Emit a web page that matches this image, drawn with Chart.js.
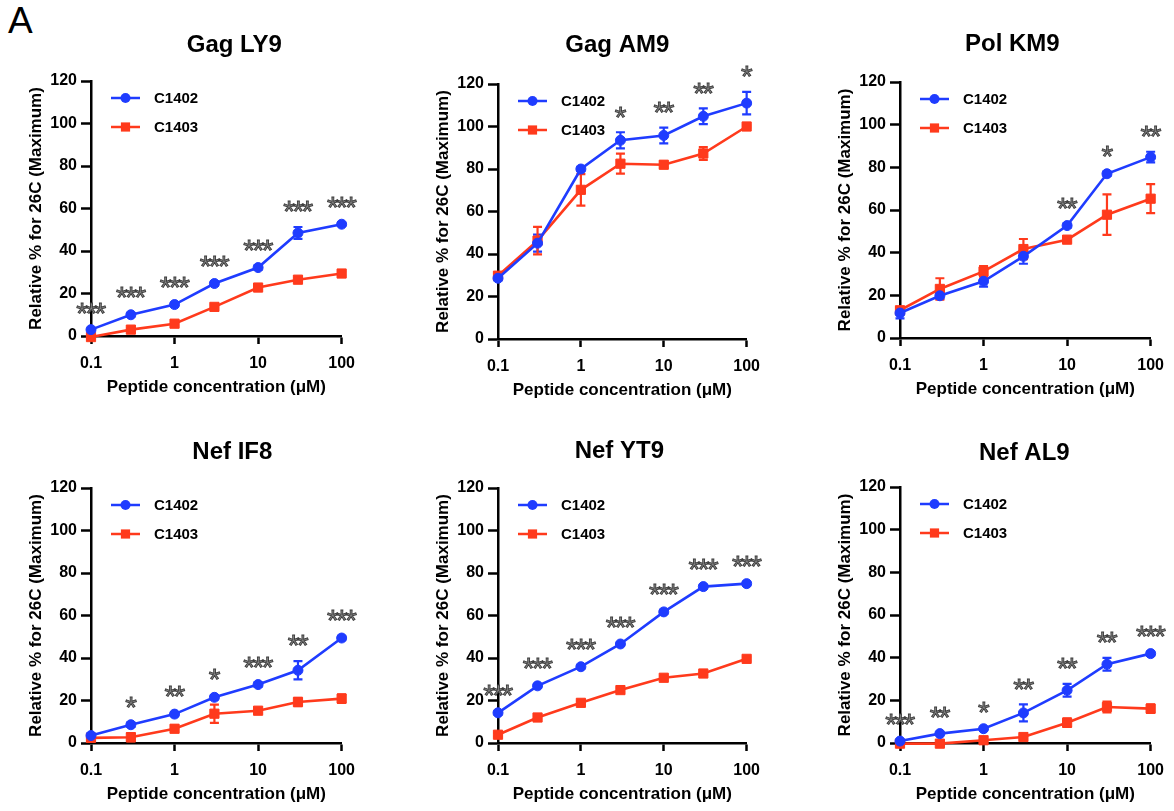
<!DOCTYPE html>
<html><head><meta charset="utf-8">
<script src="https://cdn.jsdelivr.net/npm/chart.js@4.4.1/dist/chart.umd.min.js"></script>
<style>
html,body{margin:0;padding:0;background:#fff;overflow:hidden;width:1174px;height:811px;position:relative;}
#lbl{position:absolute;left:8px;top:2px;font:37px 'Liberation Sans',Arial,sans-serif;color:#000;line-height:1;}
canvas{position:absolute;}
</style></head><body>
<div id="lbl">A</div>
<script>
// ---------- data ----------
const concentrations = [0.1, 0.3, 1, 3, 10, 30, 100];
const xTickValues = [0.1, 1, 10, 100];
const xTickLabels = ['0.1', '1', '10', '100'];
const yTickValues = [0, 20, 40, 60, 80, 100, 120];
const seriesNames = ['C1402', 'C1403'];
const panelTitles = ['Gag LY9', 'Gag AM9', 'Pol KM9', 'Nef IF8', 'Nef YT9', 'Nef AL9'];
const yAxisTitle = 'Relative % for 26C (Maximum)';
const xAxisTitle = 'Peptide concentration (\u03bcM)';

const gagLY9_C1402 = [3.0, 10.0, 14.8, 24.7, 32.2, 48.5, 52.6];
const gagLY9_C1402_err = [0.5, 0.8, 0.8, 1.0, 1.0, 2.8, 0.8];
const gagLY9_C1403 = [-0.5, 3.0, 5.8, 13.7, 22.8, 26.5, 29.4];
const gagLY9_C1403_err = [0.5, 0.8, 0.8, 1.0, 1.0, 1.0, 1.0];
const gagLY9_stars = ['***', '***', '***', '***', '***', '***', '***'];

const gagAM9_C1402 = [28.6, 45.1, 80.0, 93.5, 95.8, 104.8, 111.0];
const gagAM9_C1402_err = [1.0, 4.0, 1.0, 3.8, 3.7, 3.7, 5.3];
const gagAM9_C1403 = [29.8, 46.3, 70.2, 82.5, 82.0, 87.3, 100.0];
const gagAM9_C1403_err = [1.0, 6.5, 7.4, 4.7, 1.5, 3.0, 0.5];
const gagAM9_stars = ['', '', '', '*', '**', '**', '*'];

const polKM9_C1402 = [11.7, 19.8, 26.6, 38.3, 52.7, 77.0, 84.8];
const polKM9_C1402_err = [2.5, 1.5, 2.5, 3.5, 1.0, 1.0, 2.5];
const polKM9_C1403 = [13.0, 23.0, 31.2, 41.7, 46.1, 57.8, 65.3];
const polKM9_C1403_err = [1.0, 5.0, 2.5, 4.7, 1.0, 9.5, 6.8];
const polKM9_stars = ['', '', '', '', '**', '*', '**'];

const nefIF8_C1402 = [3.5, 8.6, 13.6, 21.5, 27.5, 34.2, 49.4];
const nefIF8_C1402_err = [1.0, 1.0, 1.0, 1.0, 1.0, 4.3, 1.0];
const nefIF8_C1403 = [2.4, 2.7, 6.7, 13.8, 15.2, 19.3, 20.9];
const nefIF8_C1403_err = [1.5, 2.0, 1.5, 4.3, 1.0, 2.0, 2.0];
const nefIF8_stars = ['', '*', '**', '*', '***', '**', '***'];

const nefYT9_C1402 = [14.2, 26.9, 35.9, 46.6, 61.7, 73.6, 75.0];
const nefYT9_C1402_err = [0.8, 0.8, 0.8, 0.8, 0.8, 0.8, 0.8];
const nefYT9_C1403 = [3.9, 12.0, 18.9, 24.9, 30.7, 32.7, 39.6];
const nefYT9_C1403_err = [0.8, 0.8, 0.8, 0.8, 0.8, 0.8, 0.8];
const nefYT9_stars = ['***', '***', '***', '***', '***', '***', '***'];

const nefAL9_C1402 = [0.9, 4.4, 6.7, 14.1, 24.7, 36.9, 41.9];
const nefAL9_C1402_err = [0.5, 0.5, 0.5, 4.0, 3.0, 3.0, 1.0];
const nefAL9_C1403 = [-0.3, -0.3, 1.3, 2.8, 9.5, 16.9, 16.1];
const nefAL9_C1403_err = [0.5, 0.5, 1.0, 1.0, 2.0, 2.5, 2.0];
const nefAL9_stars = ['***', '**', '*', '**', '**', '**', '***'];

const panelData = [
  {a: gagLY9_C1402, aErr: gagLY9_C1402_err, b: gagLY9_C1403, bErr: gagLY9_C1403_err, stars: gagLY9_stars},
  {a: gagAM9_C1402, aErr: gagAM9_C1402_err, b: gagAM9_C1403, bErr: gagAM9_C1403_err, stars: gagAM9_stars},
  {a: polKM9_C1402, aErr: polKM9_C1402_err, b: polKM9_C1403, bErr: polKM9_C1403_err, stars: polKM9_stars},
  {a: nefIF8_C1402, aErr: nefIF8_C1402_err, b: nefIF8_C1403, bErr: nefIF8_C1403_err, stars: nefIF8_stars},
  {a: nefYT9_C1402, aErr: nefYT9_C1402_err, b: nefYT9_C1403, bErr: nefYT9_C1403_err, stars: nefYT9_stars},
  {a: nefAL9_C1402, aErr: nefAL9_C1402_err, b: nefAL9_C1403, bErr: nefAL9_C1403_err, stars: nefAL9_stars}
];

// ---------- layout / style ----------
const panelBoxes = [[91, 81, 347, 336], [498, 84, 752, 339], [900, 82, 1156, 338],
                    [91, 488, 347, 743], [498, 488, 752, 743], [900, 487, 1156, 743]];
const titleOffsets = [[18, -35.5], [-5, -39], [-13, -38], [16, -36], [-3, -37], [-1, -34]];
const PADL = 90, PADT = 80, PADR = 18, PADB = 68;
const BLUE = '#1f3cff', RED = '#ff3a1c';
const FONT = "'Liberation Sans', Arial, Helvetica, sans-serif";
const STAR_GAP = 14;

Chart.defaults.font.family = FONT;
Chart.defaults.color = '#000';

function makePanelPlugin(i) {
  const p = panelData[i];
  return {
    id: 'panelExtras' + i,
    beforeDatasetsDraw(chart) {
      const {ctx, scales: {x, y}} = chart;
      chart.data.datasets.forEach((ds) => {
        ctx.save();
        ctx.strokeStyle = ds.borderColor;
        ctx.lineWidth = 2.2;
        ds.data.forEach((pt, j) => {
          const e = ds.errors[j];
          if (!e) return;
          const px = x.getPixelForValue(pt.x);
          const yt = y.getPixelForValue(pt.y + e);
          const yb = y.getPixelForValue(pt.y - e);
          ctx.beginPath();
          ctx.moveTo(px, yt); ctx.lineTo(px, yb);
          ctx.moveTo(px - 4.5, yt); ctx.lineTo(px + 4.5, yt);
          ctx.moveTo(px - 4.5, yb); ctx.lineTo(px + 4.5, yb);
          ctx.stroke();
        });
        ctx.restore();
      });
    },
    afterDatasetsDraw(chart) {
      const {ctx, chartArea, scales: {x, y}} = chart;
      // significance stars
      const ds = chart.data.datasets[0];
      ctx.save();
      ctx.font = '30px ' + FONT;
      ctx.fillStyle = '#8a8a8a';
      ctx.strokeStyle = '#3a3a3a';
      ctx.lineWidth = 0.9;
      ctx.textAlign = 'center';
      ctx.textBaseline = 'middle';
      try { ctx.letterSpacing = '-2.5px'; } catch (e) {}
      p.stars.forEach((s, j) => {
        if (!s) return;
        const top = ds.data[j].y + (ds.errors[j] || 0);
        const sx = x.getPixelForValue(ds.data[j].x) - 1, sy = y.getPixelForValue(top) - STAR_GAP;
        ctx.fillText(s, sx, sy);
        ctx.strokeText(s, sx, sy);
      });
      ctx.restore();
      // legend
      ctx.save();
      chart.data.datasets.forEach((d, k) => {
        const ly = chartArea.top + 17 + k * 29;
        const x0 = chartArea.left + 20, x1 = chartArea.left + 49, xm = (x0 + x1) / 2;
        ctx.strokeStyle = d.borderColor; ctx.lineWidth = 2.5;
        ctx.beginPath(); ctx.moveTo(x0, ly); ctx.lineTo(x1, ly); ctx.stroke();
        ctx.fillStyle = d.backgroundColor;
        if (d.pointStyle === 'circle') {
          ctx.beginPath(); ctx.arc(xm, ly, 5, 0, Math.PI * 2); ctx.fill();
        } else {
          ctx.fillRect(xm - 4.6, ly - 4.6, 9.2, 9.2);
        }
        ctx.fillStyle = '#000';
        ctx.font = 'bold 15px ' + FONT;
        ctx.textAlign = 'left'; ctx.textBaseline = 'middle';
        ctx.fillText(d.label, chartArea.left + 63, ly + 1);
      });
      // panel title
      ctx.font = 'bold 24px ' + FONT;
      ctx.textAlign = 'center'; ctx.textBaseline = 'middle';
      ctx.fillStyle = '#000';
      ctx.fillText(panelTitles[i], (chartArea.left + chartArea.right) / 2 + titleOffsets[i][0], chartArea.top + titleOffsets[i][1]);
      ctx.restore();
    }
  };
}

panelBoxes.forEach((box, i) => {
  const [a, c, b, d] = box;
  const L = a - PADL, T = c - PADT, W = (b - a) + PADL + PADR, H = (d - c) + PADT + PADB;
  const cv = document.createElement('canvas');
  cv.width = W; cv.height = H;
  cv.style.left = L + 'px'; cv.style.top = T + 'px';
  cv.style.width = W + 'px'; cv.style.height = H + 'px';
  document.body.appendChild(cv);
  const p = panelData[i];
  new Chart(cv, {
    type: 'line',
    data: {
      datasets: [
        {label: seriesNames[0], data: concentrations.map((v, j) => ({x: v, y: p.a[j]})), errors: p.aErr,
         borderColor: BLUE, backgroundColor: BLUE, pointStyle: 'circle', pointRadius: 5, pointBorderWidth: 1,
         pointBackgroundColor: BLUE, pointBorderColor: BLUE, borderWidth: 2.6, tension: 0, clip: false},
        {label: seriesNames[1], data: concentrations.map((v, j) => ({x: v, y: p.b[j]})), errors: p.bErr,
         borderColor: RED, backgroundColor: RED, pointStyle: 'rect', pointRadius: 6.5, pointBorderWidth: 1,
         pointBackgroundColor: RED, pointBorderColor: RED, borderWidth: 2.6, tension: 0, clip: false}
      ]
    },
    options: {
      responsive: false, animation: false, devicePixelRatio: 1,
      layout: {padding: {left: 0, top: PADT, right: PADR, bottom: 0}},
      plugins: {legend: {display: false}, tooltip: {enabled: false}, title: {display: false}},
      scales: {
        x: {
          type: 'logarithmic', min: 0.1, max: 100,
          afterBuildTicks: (s) => { s.ticks = xTickValues.map(v => ({value: v})); },
          afterFit: (s) => { s.height = PADB; },
          ticks: {callback: (v) => { const k = xTickValues.indexOf(v); return k >= 0 ? xTickLabels[k] : ''; },
                  font: {size: 16, weight: 'bold'}, padding: 10, maxRotation: 0, autoSkip: false, color: '#000'},
          grid: {display: true, drawOnChartArea: false, drawTicks: true, tickLength: 8, tickWidth: 2.5, tickColor: '#000'},
          border: {display: true, color: '#000', width: 2.5},
          title: {display: true, text: xAxisTitle, font: {size: 17, weight: 'bold'}, padding: {top: 0, bottom: 6.8}, color: '#000'}
        },
        y: {
          type: 'linear', min: 0, max: 120,
          afterBuildTicks: (s) => { s.ticks = yTickValues.map(v => ({value: v})); },
          afterFit: (s) => { s.width = PADL; },
          ticks: {font: {size: 16, weight: 'bold'}, padding: 4, color: '#000'},
          grid: {display: true, drawOnChartArea: false, drawTicks: true, tickLength: 10, tickWidth: 2.5, tickColor: '#000'},
          border: {display: true, color: '#000', width: 2.5},
          title: {display: true, text: yAxisTitle, font: {size: 17, weight: 'bold'}, padding: {top: 24.8, bottom: 0}, color: '#000'}
        }
      }
    },
    plugins: [makePanelPlugin(i)]
  });
});
</script>
</body></html>
